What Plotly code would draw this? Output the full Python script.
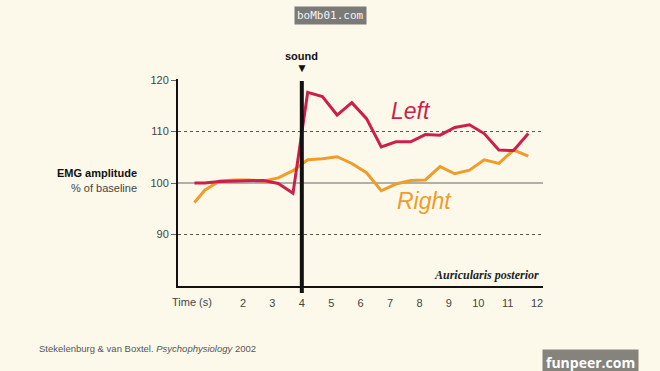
import plotly.graph_objects as go

time_s = [0.35, 0.7, 1.2, 1.7, 2.2, 2.7, 3.2, 3.7, 4.2, 4.7, 5.2, 5.7, 6.2, 6.7,
          7.2, 7.7, 8.2, 8.7, 9.2, 9.7, 10.2, 10.7, 11.2, 11.7]
left = [100.0, 100.0, 100.3, 100.4, 100.4, 100.5, 99.9, 98.0, 117.6, 116.8, 113.2,
        115.6, 112.5, 107.0, 108.0, 108.0, 109.4, 109.3, 110.8, 111.3, 109.6, 106.4,
        106.3, 109.6]
right = [96.2, 98.6, 100.4, 100.6, 100.6, 100.4, 101.0, 102.4, 104.5, 104.7, 105.1,
         103.8, 102.0, 98.5, 99.8, 100.5, 100.6, 103.2, 101.8, 102.5, 104.5, 103.8,
         106.4, 105.2]
x_ticks = [2, 3, 4, 5, 6, 7, 8, 9, 10, 11, 12]
y_ticks = [90, 100, 110, 120]
sound_t = 4

RED = "#cc1f4a"
ORANGE = "#f09c2a"
BG = "#fdf9ea"
X0, X1 = -0.21, 12.2

# plot area in figure pixels
L, R, T, B = 178, 543, 79, 286


def px(x):
    return (x - L) / (R - L)


def py(y):
    return (B - y) / (B - T)


fig = go.Figure()
fig.add_trace(go.Scatter(x=time_s, y=right, mode="lines",
                         line=dict(color=ORANGE, width=3), hoverinfo="skip"))
fig.add_trace(go.Scatter(x=time_s, y=left, mode="lines",
                         line=dict(color=RED, width=3), hoverinfo="skip"))

shapes = []
shapes.append(dict(type="line", xref="x", yref="y", x0=X0, x1=X1, y0=100, y1=100,
                   line=dict(color="#666666", width=1.2), layer="below"))
for yv in (90, 110):
    shapes.append(dict(type="line", xref="x", yref="y", x0=X0, x1=X1, y0=yv, y1=yv,
                       line=dict(color="#555555", width=1, dash="3px,3px"), layer="below"))
shapes.append(dict(type="line", xref="x", yref="paper", x0=sound_t, x1=sound_t,
                   y0=py(293), y1=py(81), line=dict(color="#111111", width=4)))
fig.update_layout(shapes=shapes)


def note(x, y, text, font, xanchor="center", **kw):
    return dict(x=x, y=y, text=text, showarrow=False, xanchor=xanchor,
                yanchor="middle", font=font, **kw)


ann = [
    note(sound_t, py(68), "▼", dict(size=12, color="#111"), xref="x", yref="paper"),
    note(sound_t, py(56), "<b>sound</b>", dict(size=11, color="#111"),
         xref="x", yref="paper"),
    note(7.7, 113.9, "<i>Left</i>", dict(size=23, color=RED, family="Liberation Sans"),
         xref="x", yref="y"),
    note(8.16, 96.6, "<i>Right</i>", dict(size=23, color=ORANGE, family="Liberation Sans"),
         xref="x", yref="y"),
    note(px(541), py(275), "<b><i>Auricularis posterior</i></b>",
         dict(size=12, color="#222", family="Liberation Serif"), xanchor="right",
         xref="paper", yref="paper"),
    note(px(139), py(173), "<b>EMG amplitude</b>", dict(size=11, color="#111"),
         xanchor="right", xref="paper", yref="paper"),
    note(px(139), py(188), "% of baseline", dict(size=11, color="#444"),
         xanchor="right", xref="paper", yref="paper"),
    note(px(192), py(302), "Time (s)", dict(size=11, color="#444"),
         xref="paper", yref="paper"),
    note(px(37), py(348), "Stekelenburg &amp; van Boxtel. <i>Psychophysiology</i> 2002",
         dict(size=9.5, color="#555"), xanchor="left", xref="paper", yref="paper"),
    note(px(330), py(16), "boMb01.com",
         dict(size=11, color="#f4f4f4", family="DejaVu Sans Mono"),
         xref="paper", yref="paper", bgcolor="#7a7a78", borderpad=2),
    note(px(590), py(362), "<b>funpeer.com</b>",
         dict(size=14, color="#ffffff", family="Open Sans"),
         xref="paper", yref="paper", bgcolor="#85837c", borderpad=3),
]

fig.update_layout(
    annotations=ann,
    width=660, height=371,
    margin=dict(l=L, r=660 - R, t=T, b=371 - B),
    paper_bgcolor=BG, plot_bgcolor=BG,
    showlegend=False,
    font=dict(family="Liberation Sans", size=11, color="#444"),
    xaxis=dict(range=[X0, X1], tickvals=x_ticks, ticktext=[str(v) for v in x_ticks],
               showgrid=False, zeroline=False, showline=True, linecolor="#111",
               linewidth=2, ticks="outside", ticklen=6, tickcolor="rgba(0,0,0,0)",
               tickfont=dict(size=11, color="#444")),
    yaxis=dict(range=[80, 120.2], tickvals=y_ticks, showgrid=False, zeroline=False,
               showline=True, linecolor="#111", linewidth=2, ticks="outside",
               ticklen=5, tickcolor="#666", tickwidth=1,
               tickfont=dict(size=11, color="#444")),
)

fig.write_html("out.html", config={"displayModeBar": False},
               post_script="document.body.style.margin='0';document.body.style.background='%s';" % BG)
